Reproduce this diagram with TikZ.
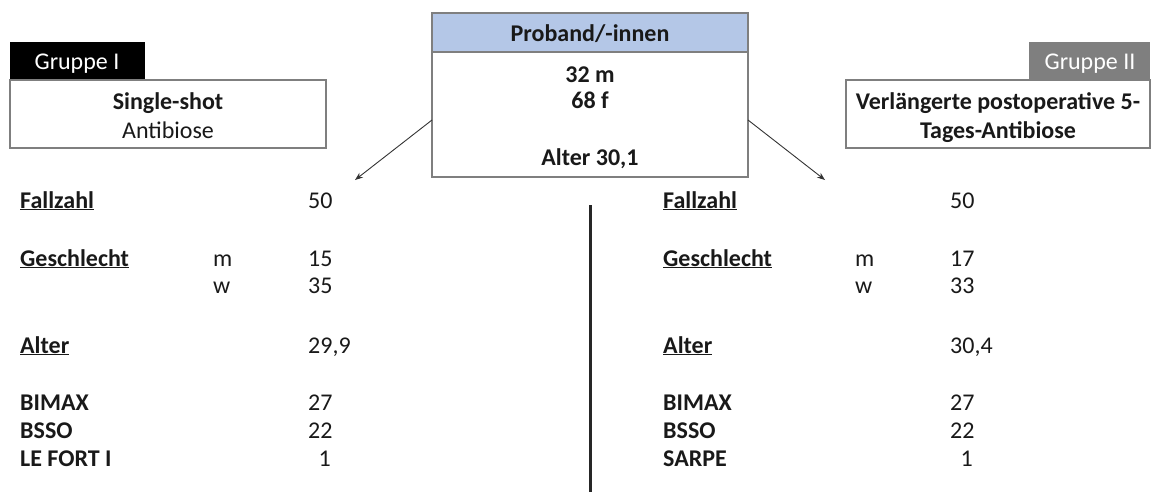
\documentclass[tikz,border=0pt]{standalone}
\usepackage{fontspec}
\setmainfont{Carlito}
\usetikzlibrary{arrows.meta}
\definecolor{hdrblue}{HTML}{B4C7E7}
\definecolor{boxgray}{HTML}{7F7F7F}
\definecolor{tabgray}{HTML}{7F7F7F}
\tikzset{
  box/.style={draw=boxgray, line width=1.5pt, fill=white},
  txt/.style={font=\fontsize{24}{28}\selectfont, inner sep=0pt, anchor=base west, text=black!90},
  btxt/.style={txt, font=\fontsize{24}{28}\selectfont\bfseries},
  ctxt/.style={font=\fontsize{24}{28}\selectfont, inner sep=0pt, anchor=base, text=black!90},
  cbtxt/.style={ctxt, font=\fontsize{24}{28}\selectfont\bfseries},
  arr/.style={draw=black!80, line width=0.9pt, -{Stealth[length=8pt,width=6pt]}},
}
\newcommand{\ul}[1]{\underline{#1}}
\begin{document}
\begin{tikzpicture}[x=1pt,y=-1pt]
\useasboundingbox (0,0) rectangle (1161,496);
% central box
\draw[box] (432,13) rectangle (748,177);
\fill[hdrblue] (432,13) rectangle (748,52);
\draw[boxgray, line width=1.5pt] (432,13) rectangle (748,177);
\draw[boxgray, line width=1.5pt] (432,52) -- (748,52);
\node[cbtxt] (prob) at (590,41) {Proband/-innen};
\node[cbtxt] (pm) at (590,82) {32 m};
\node[cbtxt] (pf) at (590,108) {68 f};
\node[cbtxt] (pa) at (590,165) {Alter 30,1};
\coordinate (pl) at (432,120);
\coordinate (pr) at (748,120);
% group I
\fill[black] (10,42) rectangle (145,80);
\node[ctxt, text=white] (g1) at (77,69) {Gruppe I};
\draw[box] (10,80) rectangle (326,148);
\node[cbtxt] (g1a) at (168,109) {Single-shot};
\node[ctxt] (g1b) at (168,138) {Antibiose};
% group II
\fill[tabgray] (1029,42) rectangle (1150,80);
\node[ctxt, text=white] (g2) at (1090,69) {Gruppe II};
\draw[box] (846,80) rectangle (1150,148);
\node[cbtxt] (g2a) at (998,109) {Verlängerte postoperative 5-};
\node[cbtxt] (g2b) at (998,138) {Tages-Antibiose};
% arrows
\coordinate (al) at (355,180);
\coordinate (ar) at (825,180);
\draw[arr] (pl) -- (al);
\draw[arr] (pr) -- (ar);
% divider
\coordinate (vt) at (590,205);
\coordinate (vb) at (590,492);
\draw[black!85, line width=3pt] (vt) -- (vb);
% left data
\node[btxt] (lf) at (20,208) {\ul{Fallzahl}};
\node[txt] (lfn) at (308,208) {50};
\node[btxt] (lg) at (20,266) {\ul{Geschlecht}};
\node[txt] (lgm) at (213,266) {m};
\node[txt] (lgmn) at (308,266) {15};
\node[txt] (lgw) at (213,293) {w};
\node[txt] (lgwn) at (308,293) {35};
\node[btxt] (la) at (20,353) {\ul{Alter}};
\node[txt] (lan) at (308,353) {29,9};
\node[btxt] (lb) at (20,410) {BIMAX};
\node[txt] (lbn) at (308,410) {27};
\node[btxt] (ls) at (20,438) {BSSO};
\node[txt] (lsn) at (308,438) {22};
\node[btxt] (lle) at (20,466) {LE FORT I};
\node[txt, anchor=base east] (llen) at (331,466) {1};
% right data
\node[btxt] (rf) at (663,208) {\ul{Fallzahl}};
\node[txt] (rfn) at (950,208) {50};
\node[btxt] (rg) at (663,266) {\ul{Geschlecht}};
\node[txt] (rgm) at (855,266) {m};
\node[txt] (rgmn) at (950,266) {17};
\node[txt] (rgw) at (855,293) {w};
\node[txt] (rgwn) at (950,293) {33};
\node[btxt] (ra) at (663,353) {\ul{Alter}};
\node[txt] (ran) at (950,353) {30,4};
\node[btxt] (rb) at (663,410) {BIMAX};
\node[txt] (rbn) at (950,410) {27};
\node[btxt] (rs) at (663,438) {BSSO};
\node[txt] (rsn) at (950,438) {22};
\node[btxt] (rsa) at (663,466) {SARPE};
\node[txt, anchor=base east] (rsan) at (973,466) {1};
\end{tikzpicture}
\end{document}
